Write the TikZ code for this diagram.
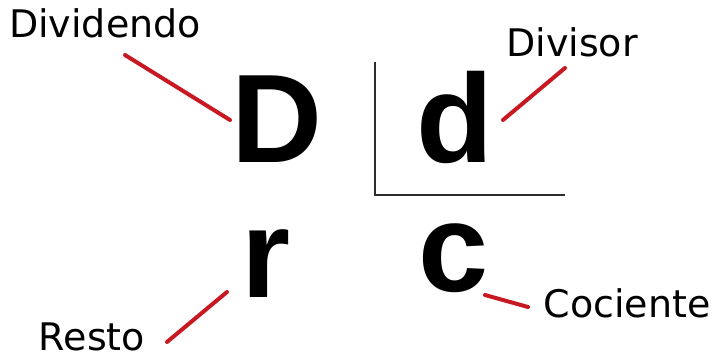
\documentclass[tikz,border=0pt]{standalone}
\usepackage{fontspec}
\setmainfont{Liberation Sans}
\newfontfamily\lblfont{DejaVu Sans}
\usepackage{tikz}
\usetikzlibrary{positioning}

\definecolor{linered}{RGB}{200,25,35}
\definecolor{bracegray}{RGB}{45,45,45}

\tikzset{
    big/.style={inner sep=0pt, anchor=base, font=\fontsize{126}{126}\selectfont\bfseries},
    lbl/.style={inner sep=0pt, anchor=base, font=\lblfont\fontsize{38}{38}\selectfont},
    pointer/.style={draw=linered, line width=4pt, line cap=round}
}

\begin{document}
\begin{tikzpicture}[x=1pt, y=-1pt]
    \useasboundingbox (0,0) rectangle (715,358);

    \node[big] (D) at (277,163) {D};
    \node[big] (d) at (455,163) {d};
    \node[big] (r) at (266,297) {r};
    \node[big] (c) at (454,291) {c};

    \node[lbl] (dividendo) at (105,38) {Dividendo};
    \node[lbl] (divisor) at (572,57) {Divisor};
    \node[lbl] (resto) at (92,350) {Resto};
    \node[lbl] (cociente) at (627,317) {Cociente};

    % ends of the red pointers
    \coordinate (dividendo-p) at (125,55);
    \coordinate (D-p) at (230,120);
    \coordinate (divisor-p) at (565,68);
    \coordinate (d-p) at (503,120);
    \coordinate (resto-p) at (167,342);
    \coordinate (r-p) at (227,292);
    \coordinate (cociente-p) at (528,307);
    \coordinate (c-p) at (485,295);

    \draw[pointer] (dividendo-p) -- (D-p);
    \draw[pointer] (divisor-p) -- (d-p);
    \draw[pointer] (resto-p) -- (r-p);
    \draw[pointer] (cociente-p) -- (c-p);

    % division bracket
    \draw[bracegray, line width=2pt] (375,62) -- (375,195) -- (565,195);
\end{tikzpicture}
\end{document}
